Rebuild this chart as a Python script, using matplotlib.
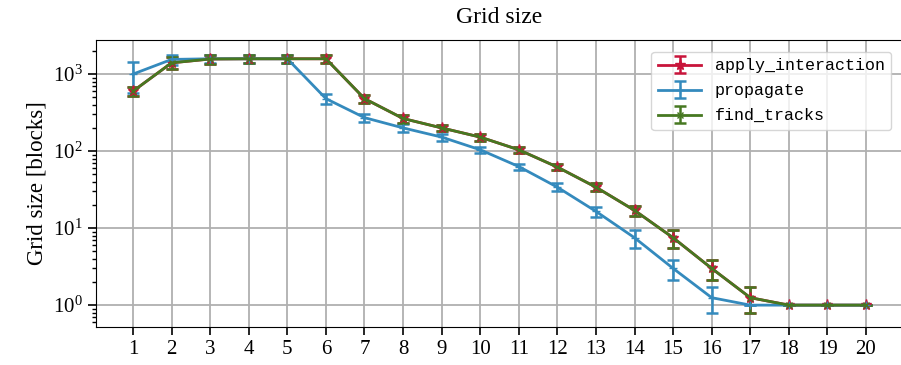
import matplotlib
matplotlib.use('Agg')
import matplotlib.pyplot as plt

# Data
steps = list(range(1, 21))
tick_labels = [str(s) for s in steps]

apply_interaction = [600, 1400, 1570, 1580, 1580, 1580, 480, 265, 200, 152,
                     104, 62, 34, 17, 7.5, 3.0, 1.25, 1, 1, 1]
apply_interaction_err = [80, 250, 200, 200, 200, 200, 60, 30, 20, 15,
                         10, 6, 4, 2.5, 1.9, 0.85, 0.45, 0, 0, 0]

propagate = [1000, 1550, 1580, 1580, 1580, 480, 272, 200, 152, 104,
             63, 34, 16.5, 7.5, 3.0, 1.25, 1, 1, 1, 1]
propagate_err = [440, 230, 200, 200, 200, 70, 35, 22, 16, 10,
                 6, 4, 2.5, 1.9, 0.85, 0.45, 0, 0, 0, 0]

find_tracks = [600, 1400, 1570, 1580, 1580, 1580, 480, 265, 200, 152,
               104, 62, 34, 17, 7.5, 3.0, 1.25, 1, 1, 1]
find_tracks_err = [80, 250, 200, 200, 200, 200, 60, 30, 20, 15,
                   10, 6, 4, 2.5, 1.9, 0.85, 0.45, 0, 0, 0]

# Style
red = '#c8143a'
blue = '#348abd'
green = '#467821'
plt.rcParams['font.family'] = ['Liberation Serif', 'DejaVu Serif']
plt.rcParams['mathtext.fontset'] = 'stix'

W, H = 901, 365
fig = plt.figure(figsize=(W / 100, H / 100), dpi=100)
ax = fig.add_axes([96 / W, (H - 327) / H, (903 - 96) / W, (327 - 40) / H])

common = dict(linewidth=2, capsize=4, capthick=1.8, elinewidth=1.8)
ax.errorbar(steps, apply_interaction, yerr=apply_interaction_err, color=red,
            marker='*', markersize=8, label='apply_interaction', **common)
ax.errorbar(steps, propagate, yerr=propagate_err, color=blue,
            marker='+', markersize=6, label='propagate', **common)
ax.errorbar(steps, find_tracks, yerr=find_tracks_err, color=green,
            marker='x', markersize=5, label='find_tracks', **common)

ax.set_yscale('log')
ax.set_ylim(0.52, 2770)
ax.set_xlim(0.04, 20.96)
ax.set_xticks(steps)
ax.set_xticklabels(tick_labels)
ax.grid(True, color='#b0b0b0', linewidth=1.3)
ax.set_axisbelow(True)
ax.spines['right'].set_visible(False)
ax.tick_params(axis='both', which='major', labelsize=15, length=6, width=1.2, direction='out')
ax.tick_params(axis='y', which='minor', length=3, width=1)

ax.set_ylabel('Grid size [blocks]', fontsize=16.5)
ax.set_title('Grid size', fontsize=17, pad=12)

leg = ax.legend(loc='upper right', prop={'family': 'Liberation Mono', 'size': 12},
                fancybox=True, framealpha=0.8, edgecolor='#cccccc',
                handlelength=2.6, labelspacing=0.6, borderaxespad=0.7)

fig.savefig('out.png', dpi=100)
